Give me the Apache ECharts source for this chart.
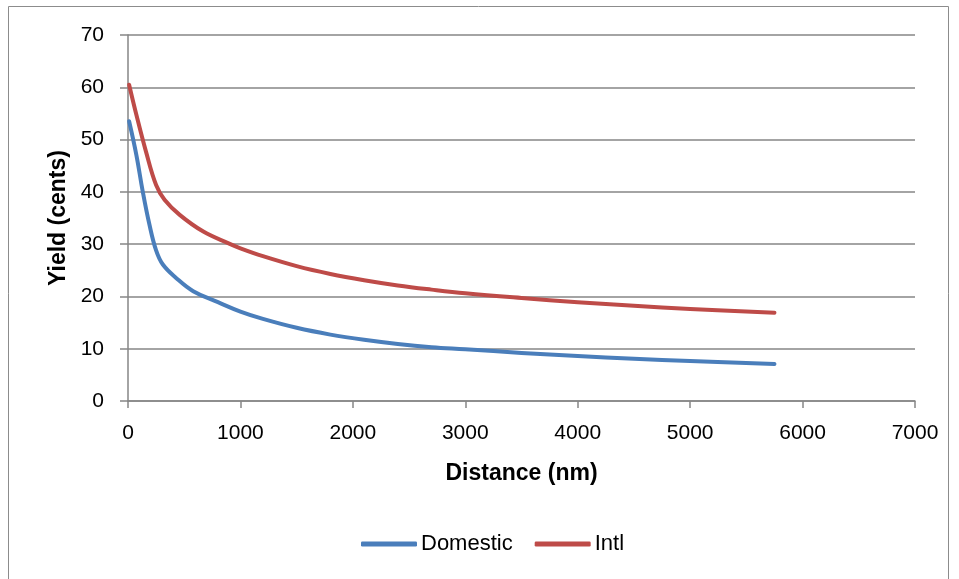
<!DOCTYPE html>
<html>
<head>
<meta charset="utf-8">
<script src="https://cdn.jsdelivr.net/npm/echarts@6/dist/echarts.min.js"></script>
<style>
  html, body { margin: 0; padding: 0; background: #fff; }
  #chart { width: 959px; height: 579px; }
</style>
</head>
<body>
<div id="chart"></div>
<script>
// Distance (nm) sample points and yields (cents) for each market
const domesticDistance = [10, 75, 130, 190, 250, 310, 430, 580, 800, 1000, 1200, 1500, 1800, 2100, 2400, 2700, 3000, 3500, 4000, 4500, 5000, 5750];
const domesticYield    = [53.5, 47.0, 40.2, 33.8, 28.8, 26.1, 23.5, 21.0, 18.9, 17.1, 15.7, 14.0, 12.7, 11.7, 10.9, 10.3, 9.9, 9.2, 8.6, 8.1, 7.65, 7.1];
const intlDistance = [10, 75, 160, 250, 325, 460, 670, 900, 1000, 1200, 1500, 1800, 2100, 2400, 2700, 3000, 3500, 4000, 4500, 5000, 5750];
const intlYield    = [60.5, 54.7, 47.7, 41.3, 38.5, 35.6, 32.4, 30.1, 29.2, 27.7, 25.8, 24.3, 23.1, 22.1, 21.3, 20.6, 19.7, 18.9, 18.2, 17.6, 16.9];
const seriesNames = ['Domestic', 'Intl'];

const pairs = (xs, ys) => xs.map((x, i) => [x, ys[i]]);
const font = '"Liberation Sans", Arial, sans-serif';
const gridGray = '#868686';

const chart = echarts.init(document.getElementById('chart'), null, { renderer: 'canvas' });
chart.setOption({
  animation: false,
  backgroundColor: '#fff',
  graphic: [{
    type: 'rect',
    shape: { x: 8.5, y: 6.5, width: 940, height: 600 },
    style: { fill: 'none', stroke: '#8c8c8c', lineWidth: 1 },
    silent: true
  }],
  grid: { left: 128, right: 44, top: 35, bottom: 178 },
  legend: {
    data: seriesNames,
    top: 528,
    left: 356,
    icon: 'roundRect',
    itemWidth: 56,
    itemHeight: 5,
    itemGap: 22,
    textStyle: { fontFamily: font, fontSize: 22, color: '#000', padding: [0, 0, 0, -1] }
  },
  xAxis: {
    type: 'value',
    min: 0, max: 7000, interval: 1000,
    name: 'Distance (nm)',
    nameLocation: 'middle',
    nameGap: 61,
    nameTextStyle: { fontFamily: font, fontSize: 23, fontWeight: 'bold', color: '#000' },
    axisLine: { lineStyle: { color: gridGray, width: 1.5 } },
    axisTick: { show: true, length: 7, lineStyle: { color: gridGray, width: 1.5 } },
    axisLabel: { fontFamily: font, fontSize: 21, color: '#000', margin: 22, formatter: v => String(v) },
    splitLine: { show: false }
  },
  yAxis: {
    type: 'value',
    min: 0, max: 70, interval: 10,
    name: 'Yield (cents)',
    nameLocation: 'middle',
    nameRotate: 90,
    nameGap: 54,
    nameTextStyle: { fontFamily: font, fontSize: 23, fontWeight: 'bold', color: '#000' },
    axisLine: { show: true, lineStyle: { color: gridGray, width: 1.5 } },
    axisTick: { show: true, length: 8, lineStyle: { color: gridGray, width: 1.5 } },
    axisLabel: { fontFamily: font, fontSize: 21, color: '#000', margin: 24 },
    splitLine: { lineStyle: { color: gridGray, width: 1.5 } }
  },
  series: [
    {
      name: seriesNames[0],
      type: 'line',
      data: pairs(domesticDistance, domesticYield),
      smooth: 0.4,
      showSymbol: false,
      color: '#4a7ebb',
      lineStyle: { width: 4, cap: 'round', join: 'round' }
    },
    {
      name: seriesNames[1],
      type: 'line',
      data: pairs(intlDistance, intlYield),
      smooth: 0.4,
      showSymbol: false,
      color: '#be4b48',
      lineStyle: { width: 4, cap: 'round', join: 'round' }
    }
  ]
});
</script>
</body>
</html>
